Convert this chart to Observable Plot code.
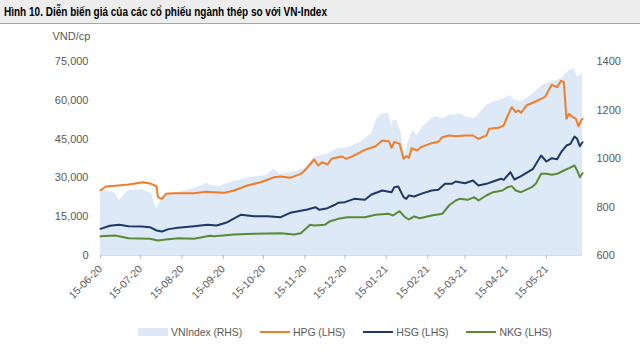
<!DOCTYPE html>
<html><head><meta charset="utf-8">
<script src="https://cdn.jsdelivr.net/npm/d3@7"></script>
<script src="https://cdn.jsdelivr.net/npm/@observablehq/plot@0.6"></script>
<style>
body{margin:0;background:#fff;width:640px;height:356px;overflow:hidden;position:relative;font-family:"Liberation Sans",Arial,sans-serif;}
#title{height:23px;background:#ededed;border-bottom:1px solid #a6a6a6;position:relative;}
#title span{position:absolute;left:4px;top:4px;font-weight:bold;font-size:13.5px;color:#000;white-space:nowrap;transform-origin:0 0;}
#chart{position:absolute;top:24px;left:0;}
#legend{position:absolute;top:326px;left:138px;display:flex;gap:18px;align-items:center;font-size:10.5px;letter-spacing:-0.1px;color:#595959;white-space:nowrap;}
#legend .item{display:flex;align-items:center;}
#legend .sw{width:30px;height:8px;margin-right:3px;}
#legend .ln{width:30px;height:2px;margin-right:3px;}
</style></head>
<body>
<div id="title"><span>Hình 10. Diễn biến giá của các cổ phiếu ngành thép so với VN-Index</span></div>
<div id="chart"></div>
<div id="legend"></div>
<script>
// ---- data ----
const xTicks = ["2020-06-15","2020-07-15","2020-08-15","2020-09-15","2020-10-15","2020-11-15","2020-12-15","2021-01-15","2021-02-15","2021-03-15","2021-04-15","2021-05-15"];
const leftTicks = [0, 15000, 30000, 45000, 60000, 75000];
const rightTicks = [600, 800, 1000, 1200, 1400];
const seriesNames = ["VNIndex (RHS)", "HPG (LHS)", "HSG (LHS)", "NKG (LHS)"];
const seriesColors = ["#dde9f6", "#f07d2a", "#1f3864", "#5a8a35"];

const vnDates = ["2020-06-15","2020-06-19","2020-06-26","2020-06-29","2020-07-06","2020-07-16","2020-07-23","2020-07-27","2020-07-29","2020-08-02","2020-08-07","2020-08-24","2020-09-03","2020-09-06","2020-09-12","2020-09-21","2020-10-03","2020-10-17","2020-10-23","2020-10-27","2020-11-07","2020-11-17","2020-11-22","2020-12-02","2020-12-10","2020-12-17","2020-12-27","2021-01-04","2021-01-08","2021-01-12","2021-01-17","2021-01-19","2021-01-20","2021-01-23","2021-01-26","2021-01-29","2021-01-31","2021-02-04","2021-02-07","2021-02-11","2021-02-18","2021-02-21","2021-02-26","2021-03-03","2021-03-11","2021-03-15","2021-03-22","2021-03-31","2021-04-05","2021-04-13","2021-04-18","2021-04-21","2021-04-26","2021-05-05","2021-05-12","2021-05-19","2021-05-26","2021-06-01","2021-06-05","2021-06-07","2021-06-11"];
const vnIndex = [858,868,858,827,868,871,858,793,813,840,854,875,898,888,886,902,920,930,957,936,943,964,1005,1019,1040,1044,1067,1102,1164,1184,1187,1129,1157,1157,1109,1005,1061,1115,1094,1129,1164,1173,1164,1177,1184,1173,1164,1219,1232,1246,1260,1240,1232,1267,1301,1315,1329,1363,1370,1336,1349];

const hpgDates = ["2020-06-15","2020-06-19","2020-06-26","2020-07-06","2020-07-17","2020-07-23","2020-07-27","2020-07-28","2020-07-31","2020-08-03","2020-08-09","2020-08-24","2020-09-01","2020-09-08","2020-09-16","2020-09-23","2020-10-03","2020-10-13","2020-10-23","2020-10-28","2020-11-04","2020-11-12","2020-11-15","2020-11-22","2020-11-25","2020-11-28","2020-12-02","2020-12-05","2020-12-10","2020-12-13","2020-12-16","2020-12-21","2020-12-30","2021-01-07","2021-01-12","2021-01-17","2021-01-19","2021-01-21","2021-01-25","2021-01-28","2021-01-30","2021-02-01","2021-02-03","2021-02-07","2021-02-10","2021-02-18","2021-02-23","2021-02-26","2021-03-03","2021-03-08","2021-03-15","2021-03-21","2021-03-25","2021-03-28","2021-03-31","2021-04-02","2021-04-09","2021-04-13","2021-04-16","2021-04-19","2021-04-22","2021-04-24","2021-04-26","2021-04-30","2021-05-07","2021-05-12","2021-05-14","2021-05-19","2021-05-23","2021-05-26","2021-05-28","2021-05-30","2021-06-01","2021-06-03","2021-06-06","2021-06-08","2021-06-10","2021-06-11"];
const hpg = [25130,26700,27000,27450,28340,27700,26680,22540,21900,23850,24100,24100,24600,24480,24230,25130,27060,28340,30270,30540,30020,31580,32860,37110,34800,36070,35180,37380,38000,38270,37380,38400,40850,42260,44460,44200,41630,43940,43170,37380,38400,37800,41500,40590,41890,43430,43940,45740,46390,46130,46390,46390,45100,45740,46390,48970,49350,50260,54120,57340,55410,56050,55150,57990,59530,60810,61330,65980,65080,67520,67000,52840,54770,53750,52840,49990,52190,52840];

const hsgDates = ["2020-06-15","2020-06-22","2020-06-29","2020-07-06","2020-07-16","2020-07-22","2020-07-27","2020-07-31","2020-08-05","2020-08-12","2020-08-24","2020-09-03","2020-09-10","2020-09-18","2020-09-28","2020-10-08","2020-10-18","2020-10-28","2020-11-04","2020-11-17","2020-11-23","2020-11-26","2020-12-02","2020-12-08","2020-12-10","2020-12-15","2020-12-22","2020-12-30","2021-01-04","2021-01-12","2021-01-19","2021-01-21","2021-01-24","2021-01-28","2021-01-30","2021-02-01","2021-02-05","2021-02-10","2021-02-18","2021-02-23","2021-02-28","2021-03-05","2021-03-08","2021-03-11","2021-03-15","2021-03-21","2021-03-25","2021-03-31","2021-04-05","2021-04-11","2021-04-13","2021-04-18","2021-04-21","2021-04-26","2021-05-05","2021-05-11","2021-05-15","2021-05-19","2021-05-23","2021-05-26","2021-05-30","2021-06-02","2021-06-05","2021-06-07","2021-06-09","2021-06-11"];
const hsg = [10310,11500,11860,11340,11200,10950,9670,9280,10200,10700,11340,11900,11600,12880,15720,15200,15200,14820,16490,17780,18680,17670,18290,19720,20360,20620,21900,21520,23580,25130,24480,26420,26680,22550,21900,23200,22810,23840,25130,25390,27700,27700,28610,28340,27960,28990,27060,27700,28610,29650,29260,32220,29390,30660,33510,38660,36340,37630,37250,39940,42520,43180,46000,45100,42260,43800];

const nkgDates = ["2020-06-15","2020-06-26","2020-07-06","2020-07-22","2020-07-28","2020-08-03","2020-08-12","2020-08-24","2020-09-05","2020-09-08","2020-09-23","2020-10-08","2020-10-28","2020-11-07","2020-11-12","2020-11-19","2020-11-22","2020-11-30","2020-12-04","2020-12-10","2020-12-17","2020-12-30","2021-01-07","2021-01-17","2021-01-20","2021-01-25","2021-01-29","2021-02-01","2021-02-05","2021-02-09","2021-02-18","2021-02-26","2021-03-03","2021-03-08","2021-03-11","2021-03-17","2021-03-22","2021-03-25","2021-03-31","2021-04-05","2021-04-12","2021-04-16","2021-04-19","2021-04-22","2021-04-26","2021-05-04","2021-05-07","2021-05-11","2021-05-15","2021-05-19","2021-05-23","2021-05-28","2021-06-01","2021-06-05","2021-06-07","2021-06-09","2021-06-11"];
const nkg = [7470,7730,6700,6440,5800,6200,6700,6440,7600,7470,8120,8380,8640,8120,8640,11860,11600,11860,13270,14170,14820,14820,15720,16110,15460,17140,14820,13920,15080,14430,15460,16110,19330,21260,21900,21520,22550,21260,23200,24480,25130,26420,26810,25130,24480,26420,27700,31570,31570,31180,31570,32860,33760,34790,32860,30270,31820];

// ---- build ----
const parse = d3.utcParse("%Y-%m-%d");
const toLeft = v => (v - 600) / 800 * 75000;          // RHS value -> LHS scale
const fromLeft = y => String(Math.round(y / 75000 * 800 + 600));
const rows = (dates, vals, f = v => v) => dates.map((d, i) => ({date: parse(d), value: f(vals[i])}));
const vnData = rows(vnDates, vnIndex, toLeft);
const hpgData = rows(hpgDates, hpg);
const hsgData = rows(hsgDates, hsg);
const nkgData = rows(nkgDates, nkg);

const chart = Plot.plot({
  width: 640, height: 296,
  marginTop: 37, marginBottom: 65, marginLeft: 100, marginRight: 58,
  style: {fontFamily: '"Liberation Sans",Arial,sans-serif', fontSize: "11px", color: "#595959", background: "transparent"},
  x: {type: "utc", domain: [parse("2020-06-15"), parse("2021-06-11")]},
  y: {domain: [0, 75000]},
  marks: [
    Plot.areaY(vnData, {x: "date", y: "value", fill: seriesColors[0]}),
    Plot.ruleY([0], {stroke: "#d9d9d9"}),
    Plot.lineY(hpgData, {x: "date", y: "value", stroke: seriesColors[1], strokeWidth: 2}),
    Plot.lineY(hsgData, {x: "date", y: "value", stroke: seriesColors[2], strokeWidth: 2}),
    Plot.lineY(nkgData, {x: "date", y: "value", stroke: seriesColors[3], strokeWidth: 2}),
    Plot.axisX({ticks: xTicks.map(parse), tickFormat: d3.utcFormat("%d-%m-%y"), tickRotate: -45, tickSize: 4, stroke: "#bfbfbf", fill: "#595959", fontSize: 10.5, label: null}),
    Plot.axisY({ticks: leftTicks, tickFormat: d3.format(","), tickSize: 0, tickPadding: 12, fill: "#595959", label: null}),
    Plot.axisY(rightTicks.map(toLeft), {anchor: "right", tickFormat: fromLeft, tickSize: 0, tickPadding: 14, fill: "#595959", label: null}),
    Plot.text(["VND/cp"], {frameAnchor: "top-left", dx: -48, dy: -29, fill: "#595959"})
  ]
});
document.getElementById("chart").appendChild(chart);

// title: squeeze to the reference width
const t = document.querySelector("#title span");
const w = t.getBoundingClientRect().width;
t.style.transform = `scaleX(${Math.min(1, 323 / w)})`;

// legend
const lg = document.getElementById("legend");
seriesNames.forEach((name, i) => {
  const it = document.createElement("div");
  it.className = "item";
  const s = document.createElement("div");
  s.className = i === 0 ? "sw" : "ln";
  s.style.background = seriesColors[i];
  const tx = document.createElement("span");
  tx.textContent = name;
  it.appendChild(s); it.appendChild(tx);
  lg.appendChild(it);
});
</script>
</body></html>
